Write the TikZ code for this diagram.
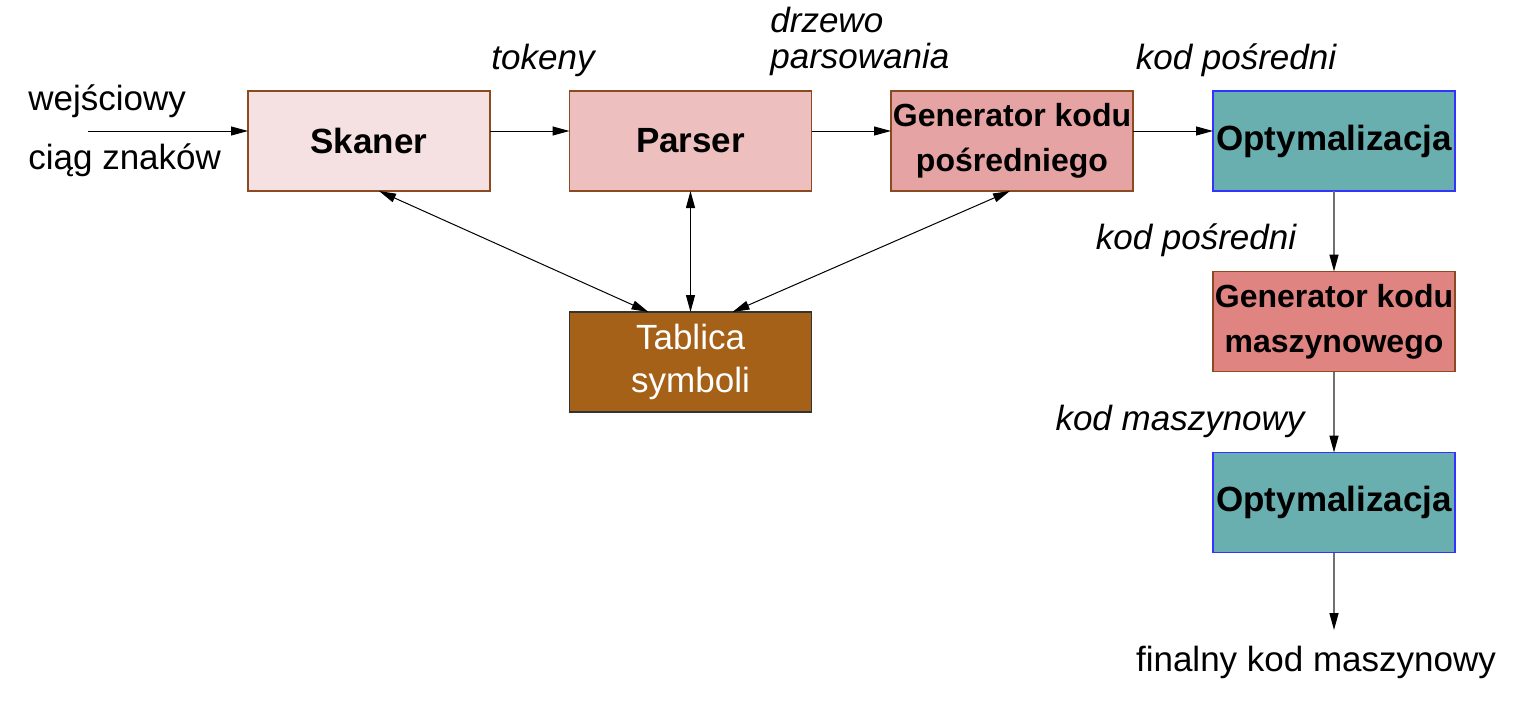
\documentclass[tikz,border=0pt]{standalone}
\usepackage{fontspec}
\setmainfont{Liberation Sans}
\usetikzlibrary{arrows.meta}
\definecolor{cSkaner}{HTML}{F5E1E1}
\definecolor{cParser}{HTML}{EDBFBF}
\definecolor{cGenP}{HTML}{E6A3A3}
\definecolor{cOpt}{HTML}{6AAFAF}
\definecolor{cGenM}{HTML}{E08482}
\definecolor{cTab}{HTML}{A66118}
\definecolor{cBrown}{HTML}{8B4A20}
\definecolor{cBlue}{HTML}{3333FF}
\definecolor{cGray}{HTML}{707070}
\tikzset{
  box/.style={draw=cBrown, line width=0.6pt, minimum width=121pt, minimum height=50pt, inner sep=0pt, outer sep=0pt, align=center},
  bigb/.style={font=\fontsize{17.5}{21}\selectfont\bfseries},
  genb/.style={font=\fontsize{16}{22.5}\selectfont\bfseries},
  lab/.style={font=\fontsize{17.5}{21}\selectfont\itshape, inner sep=0pt},
  plain/.style={font=\fontsize{17.5}{21}\selectfont, inner sep=0pt},
  conn/.style={line width=0.5pt, -{Triangle[length=8.5pt,width=4.5pt]}},
  biconn/.style={line width=0.5pt, {Triangle[length=8.5pt,width=4.5pt]}-{Triangle[length=8.5pt,width=4.5pt]}},
  vconn/.style={draw=cGray, line width=0.7pt, -{Triangle[length=8.5pt,width=4.5pt,color=black]}}
}
\begin{document}
\begin{tikzpicture}[x=0.5pt,y=-0.5pt]
\useasboundingbox (0,0) rectangle (1516,702);
% boxes
\node[box, fill=cSkaner, bigb] (sk) at (369,141) {Skaner};
\node[box, fill=cParser, bigb] (pa) at (690.5,141) {Parser};
\node[box, fill=cGenP, genb] (gp) at (1012,141) {Generator kodu\\pośredniego};
\node[box, fill=cOpt, draw=cBlue, bigb] (o1) at (1334,141) {Optymalizacja};
\node[box, fill=cGenM, genb] (gm) at (1334,321.5) {Generator kodu\\maszynowego};
\node[box, fill=cOpt, draw=cBlue, bigb] (o2) at (1334,502.5) {Optymalizacja};
\node[box, fill=cTab, draw=black!80, text=white, font=\fontsize{17.5}{21.5}\selectfont] (tab) at (690.5,362) {Tablica\\symboli};
% labels
\node[plain, anchor=west] (l1) at (28,101) {wejściowy};
\node[plain, anchor=west] (l2) at (28,160) {ciąg znaków};
\node[lab] (tok) at (543,60) {tokeny};
\node[lab, anchor=west] (dz1) at (770,20) {drzewo};
\node[lab, anchor=west] (dz2) at (770,59) {parsowania};
\node[lab] (kp1) at (1236,60) {kod pośredni};
\node[lab] (kp2) at (1196,240) {kod pośredni};
\node[lab] (km) at (1180,421) {kod maszynowy};
\node[plain] (fin) at (1316,662) {finalny kod maszynowy};
% connectors
\coordinate (in) at (88,131);
\coordinate (out) at (1334,630);
\draw[conn] (in) -- (in -| sk.west);
\draw[conn] ([yshift=5pt]sk.east) -- ([yshift=5pt]pa.west);
\draw[conn] ([yshift=5pt]pa.east) -- ([yshift=5pt]gp.west);
\draw[conn] ([yshift=5pt]gp.east) -- ([yshift=5pt]o1.west);
\draw[vconn] (o1.south) -- (gm.north);
\draw[vconn] (gm.south) -- (o2.north);
\draw[vconn] (o2.south) -- (out);
\draw[biconn] ([xshift=5pt]sk.south) -- ([xshift=-21pt]tab.north);
\draw[biconn] (pa.south) -- (tab.north);
\draw[biconn] ([xshift=-1pt]gp.south) -- ([xshift=21pt]tab.north);
\end{tikzpicture}
\end{document}
